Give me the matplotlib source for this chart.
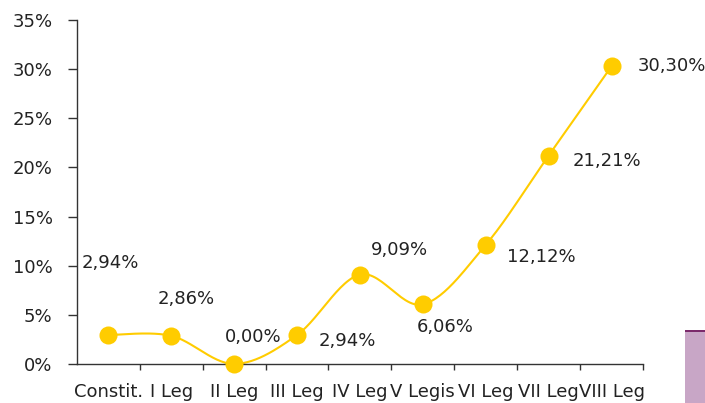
import matplotlib.pyplot as plt
import numpy as np
from matplotlib.patches import Rectangle

categories = ["Constit.", "I Leg", "II Leg", "III Leg", "IV Leg",
              "V Legis", "VI Leg", "VII Leg", "VIII Leg"]
values = [2.94, 2.86, 0.00, 2.94, 9.09, 6.06, 12.12, 21.21, 30.30]
# label offsets from each marker, in pixels
label_dx = [2, 15, 19, 50, 40, 22, 56, 58, 60]
label_dy = [72, 37, 27, -6, 25, -23, -12, -5, 0]

yellow = "#ffcc00"
axis_col = "#333333"


def smooth_curve(x, y, n=30):
    # Catmull-Rom through the points, similar to a spreadsheet "smoothed line"
    x = np.asarray(x, dtype=float)
    y = np.asarray(y, dtype=float)
    px = np.concatenate([[x[0]], x, [x[-1]]])
    py = np.concatenate([[y[0]], y, [y[-1]]])
    xs, ys = [], []
    t = np.linspace(0, 1, n)
    for i in range(1, len(px) - 2):
        p0, p1, p2, p3 = [np.array([px[j], py[j]]) for j in (i - 1, i, i + 1, i + 2)]
        c1 = p1 + (p2 - p0) / 6.0
        c2 = p2 - (p3 - p1) / 6.0
        pts = ((1 - t) ** 3)[:, None] * p1 + (3 * (1 - t) ** 2 * t)[:, None] * c1 \
            + (3 * (1 - t) * t ** 2)[:, None] * c2 + (t ** 3)[:, None] * p2
        xs.extend(pts[:, 0])
        ys.extend(pts[:, 1])
    return np.array(xs), np.array(ys)


fig = plt.figure(figsize=(7.05, 4.03), dpi=100)
ax = fig.add_axes([0.109, 0.097, 0.803, 0.853])

x = np.arange(len(categories))
sx, sy = smooth_curve(x, values)
ax.plot(sx, sy, color=yellow, linewidth=1.5, zorder=2)
ax.plot(x, values, linestyle="none", marker="o", markersize=13,
        color=yellow, markeredgewidth=0, zorder=3, clip_on=False)

for xi, v, dx, dy in zip(x, values, label_dx, label_dy):
    ax.annotate(f"{v:.2f}%".replace(".", ","), (xi, v),
                xytext=(dx, dy), textcoords="offset pixels",
                ha="center", va="center", fontsize=13, color="#222222",
                annotation_clip=False)

ax.set_xlim(-0.5, len(categories) - 0.5)
ax.set_ylim(0, 35)
ax.set_yticks(np.arange(0, 36, 5))
ax.set_yticklabels([f"{t}%" for t in range(0, 36, 5)])
ax.set_xticks(x)
ax.set_xticklabels(categories)
ax.set_xticks(np.arange(0.5, len(categories), 1), minor=True)

ax.tick_params(axis="y", length=6.5, width=1, color=axis_col, pad=11,
               labelsize=13, labelcolor="#222222")
ax.tick_params(axis="x", which="major", length=0, pad=14,
               labelsize=13, labelcolor="#222222")
ax.tick_params(axis="x", which="minor", length=4, width=1, color=axis_col)

for side in ("top", "right"):
    ax.spines[side].set_visible(False)
for side in ("left", "bottom"):
    ax.spines[side].set_color(axis_col)
    ax.spines[side].set_linewidth(1)

# partial legend swatch at the lower right edge
fig.patches.append(Rectangle((685 / 705, 0), 30 / 705, 72 / 403,
                             transform=fig.transFigure, facecolor="#c8a6c6",
                             edgecolor="none"))
fig.patches.append(Rectangle((685 / 705, 71 / 403), 30 / 705, 2 / 403,
                             transform=fig.transFigure, facecolor="#7b2a6b",
                             edgecolor="none"))

fig.savefig("out.png", dpi=100)
